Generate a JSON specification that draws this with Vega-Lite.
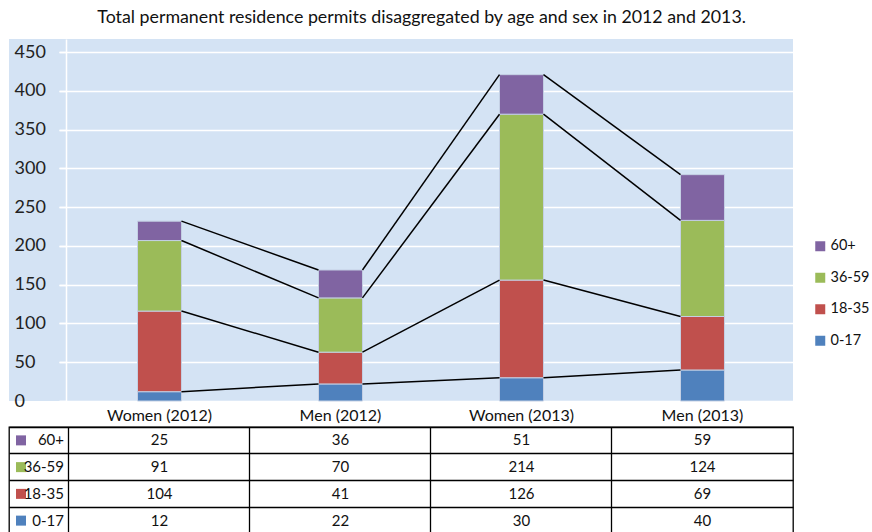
{
  "$schema": "https://vega.github.io/schema/vega-lite/v6.json",
  "padding": {"left": 8, "top": 9, "right": 0, "bottom": 0},
  "title": {"text": "Total permanent residence permits disaggregated by age and sex in  2012 and 2013.", "anchor": "start", "dx": 89, "fontSize": 17.8, "fontWeight": "normal", "color": "#111111", "font": "Lato", "offset": 12},
  "data": {"values": [
    {"category": "Women (2012)", "sex": "Women", "year": 2012, "age": "0-17", "value": 12},
    {"category": "Women (2012)", "sex": "Women", "year": 2012, "age": "18-35", "value": 104},
    {"category": "Women (2012)", "sex": "Women", "year": 2012, "age": "36-59", "value": 91},
    {"category": "Women (2012)", "sex": "Women", "year": 2012, "age": "60+", "value": 25},
    {"category": "Men (2012)", "sex": "Men", "year": 2012, "age": "0-17", "value": 22},
    {"category": "Men (2012)", "sex": "Men", "year": 2012, "age": "18-35", "value": 41},
    {"category": "Men (2012)", "sex": "Men", "year": 2012, "age": "36-59", "value": 70},
    {"category": "Men (2012)", "sex": "Men", "year": 2012, "age": "60+", "value": 36},
    {"category": "Women (2013)", "sex": "Women", "year": 2013, "age": "0-17", "value": 30},
    {"category": "Women (2013)", "sex": "Women", "year": 2013, "age": "18-35", "value": 126},
    {"category": "Women (2013)", "sex": "Women", "year": 2013, "age": "36-59", "value": 214},
    {"category": "Women (2013)", "sex": "Women", "year": 2013, "age": "60+", "value": 51},
    {"category": "Men (2013)", "sex": "Men", "year": 2013, "age": "0-17", "value": 40},
    {"category": "Men (2013)", "sex": "Men", "year": 2013, "age": "18-35", "value": 69},
    {"category": "Men (2013)", "sex": "Men", "year": 2013, "age": "36-59", "value": 124},
    {"category": "Men (2013)", "sex": "Men", "year": 2013, "age": "60+", "value": 59}
  ]},
  "spacing": 26,
  "bounds": "flush",
  "resolve": {"scale": {"x": "independent", "y": "independent", "color": "independent"}, "legend": {"color": "independent"}},
  "vconcat": [
    {
      "width": 784,
      "height": 362,
      "view": {"fill": "#d4e3f4", "stroke": null},
      "transform": [
        {"stack": "value", "groupby": ["category"], "sort": [{"field": "age", "order": "ascending"}], "as": ["v0", "v1"]}
      ],
      "layer": [
        {
          "mark": {"type": "bar", "width": {"band": 0.243}, "stroke": "#c4d0e4", "strokeWidth": 1},
          "encoding": {
            "x": {"field": "category", "type": "nominal", "sort": null,
              "scale": {"domain": ["Women (2012)", "Men (2012)", "Women (2013)", "Men (2013)"], "range": [50, 784], "paddingInner": 0, "paddingOuter": 0.0276, "align": 1},
              "axis": {"title": null, "labelAngle": 0, "ticks": false, "domain": false, "grid": false, "labelFontSize": 16, "labelColor": "#111111", "labelPadding": 6}},
            "y": {"field": "v1", "type": "quantitative",
              "scale": {"domain": [0, 467], "nice": false, "zero": true},
              "axis": {"title": null, "values": [0, 50, 100, 150, 200, 250, 300, 350, 400, 450], "offset": -57, "tickSize": 7, "tickColor": "white", "tickWidth": 1.5, "domainColor": "white", "domainWidth": 1.5, "grid": true, "gridColor": "white", "gridWidth": 1.5, "labelAlign": "left", "labelBaseline": "middle", "labelPadding": 45, "labelFontSize": 18, "labelColor": "#222222"}},
            "y2": {"field": "v0"},
            "color": {"field": "age", "type": "nominal",
              "scale": {"domain": ["60+", "36-59", "18-35", "0-17"], "range": ["#8064a2", "#9bbb59", "#c0504d", "#4f81bd"]},
              "legend": {"title": null, "orient": "none", "legendX": 804, "legendY": 200, "symbolType": "square", "symbolSize": 100, "symbolStrokeWidth": 0, "labelFontSize": 14.5, "labelColor": "#111111", "labelOffset": 3, "rowPadding": 16.5, "padding": 0}}
          }
        },
        {
          "transform": [
            {"window": [{"op": "lead", "field": "v1", "as": "nv"}, {"op": "lead", "field": "category", "as": "ncat"}], "groupby": ["age"], "sort": [{"field": "year", "order": "ascending"}, {"field": "sex", "order": "descending"}]},
            {"filter": "datum.ncat != null"}
          ],
          "mark": {"type": "rule", "color": "black", "strokeWidth": 1.5},
          "encoding": {
            "x": {"field": "category", "type": "nominal", "bandPosition": 0.6215},
            "x2": {"field": "ncat", "bandPosition": 0.3785},
            "y": {"field": "v1", "type": "quantitative"},
            "y2": {"field": "nv"}
          }
        }
      ]
    },
    {
      "width": 784,
      "height": 107,
      "view": {"stroke": "black", "strokeWidth": 1.3, "fill": null},
      "resolve": {"scale": {"x": "independent"}},
      "layer": [
        {
          "mark": {"type": "text", "fontSize": 15, "color": "#111111"},
          "encoding": {
            "x": {"field": "category", "type": "nominal", "sort": null,
              "scale": {"type": "band", "domain": ["Women (2012)", "Men (2012)", "Women (2013)", "Men (2013)"], "paddingInner": 0, "paddingOuter": 0.1657, "align": 1},
              "axis": {"title": null, "labels": false, "ticks": false, "domain": false, "grid": true, "gridColor": "black", "gridWidth": 1.3, "bandPosition": 0}},
            "y": {"field": "age", "type": "nominal",
              "scale": {"type": "band", "domain": ["60+", "36-59", "18-35", "0-17"], "paddingInner": 0, "paddingOuter": 0},
              "axis": {"title": null, "labels": false, "ticks": false, "domain": false, "grid": true, "gridColor": "black", "gridWidth": 1.3, "bandPosition": 0}},
            "text": {"field": "value", "type": "quantitative"}
          }
        },
        {
          "transform": [{"aggregate": [{"op": "count", "as": "n"}], "groupby": ["age"]}],
          "mark": {"type": "point", "shape": "square", "filled": true, "size": 100, "opacity": 1, "strokeWidth": 0},
          "encoding": {
            "x": {"datum": "k", "type": "nominal", "bandPosition": 0.2, "scale": {"type": "band", "domain": ["k"], "range": [0, 60], "paddingInner": 0, "paddingOuter": 0}, "axis": null},
            "y": {"field": "age", "type": "nominal"},
            "color": {"field": "age", "type": "nominal",
              "scale": {"domain": ["60+", "36-59", "18-35", "0-17"], "range": ["#8064a2", "#9bbb59", "#c0504d", "#4f81bd"]}, "legend": null}
          }
        },
        {
          "transform": [{"aggregate": [{"op": "count", "as": "n"}], "groupby": ["age"]}],
          "mark": {"type": "text", "fontSize": 15, "color": "#111111", "align": "right"},
          "encoding": {
            "x": {"datum": "k", "type": "nominal", "bandPosition": 0.917, "scale": {"type": "band", "domain": ["k"], "range": [0, 60], "paddingInner": 0, "paddingOuter": 0}, "axis": null},
            "y": {"field": "age", "type": "nominal"},
            "text": {"field": "age", "type": "nominal"}
          }
        }
      ]
    }
  ],
  "config": {"font": "Lato", "text": {"font": "Lato"}}
}
